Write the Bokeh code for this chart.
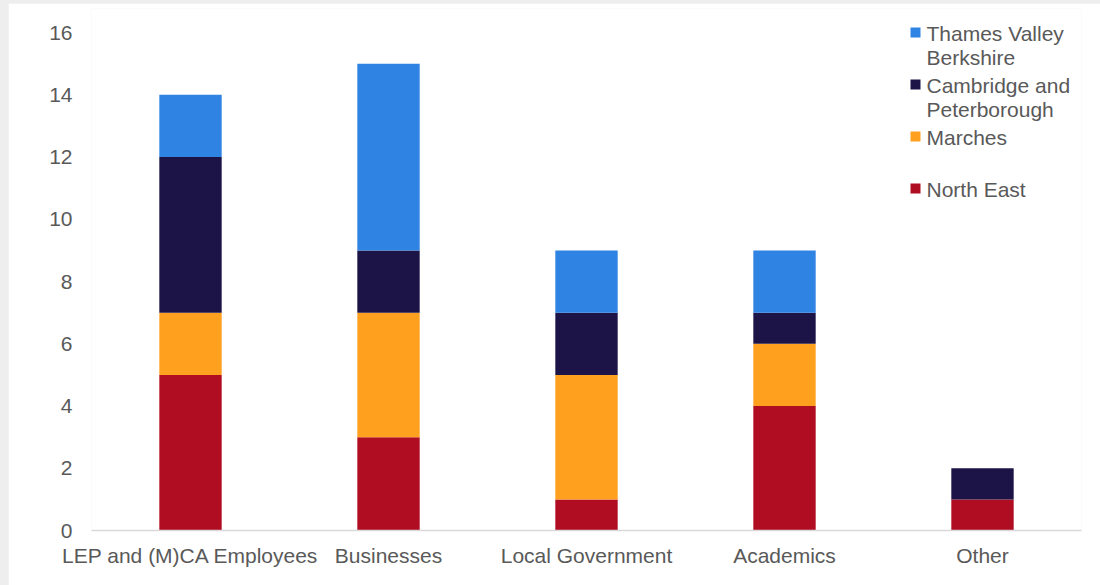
from bokeh.plotting import figure
from bokeh.models import ColumnDataSource, Label, BoxAnnotation
from bokeh.layouts import column
from bokeh.embed import file_html
from bokeh.resources import INLINE

categories = ["LEP and (M)CA Employees", "Businesses", "Local Government", "Academics", "Other"]
regions = ["North East", "Marches", "Cambridge and Peterborough", "Thames Valley Berkshire"]
north_east = [5, 3, 1, 4, 1]
marches = [2, 4, 4, 2, 0]
cambridge = [5, 2, 2, 1, 1]
thames = [2, 6, 2, 2, 0]
colors = ["#B00D23", "#FFA01E", "#1C1447", "#2E83E3"]
y_ticks = [0, 2, 4, 6, 8, 10, 12, 14, 16]

# legend (top to bottom): lines of text per item
legend_entries = [
    (["Thames Valley", "Berkshire"], colors[3]),
    (["Cambridge and", "Peterborough"], colors[2]),
    (["Marches"], colors[1]),
    (["North East"], colors[0]),
]

FONT = "Liberation Sans"
FS = "21px"
GREY = "#595959"

source = ColumnDataSource(dict(cat=categories, ne=north_east, ma=marches, cp=cambridge, tv=thames))

# frame is 522 px tall; 16 sits 24 px below its top (31.125 px per unit)
y_end = 16 + 24 / 31.125
p = figure(x_range=categories, y_range=(0, y_end), width=1092, height=582,
           output_backend="svg", toolbar_location=None,
           min_border_left=83, min_border_right=19, min_border_top=5, min_border_bottom=55)
p.margin = (3, 0, 0, 8)
p.x_range.range_padding = 0
p.vbar_stack(["ne", "ma", "cp", "tv"], x="cat", width=0.315, color=colors,
             source=source, line_color=None)

p.outline_line_color = None
p.xgrid.grid_line_color = None
p.ygrid.grid_line_color = None
p.yaxis.ticker = y_ticks
p.yaxis.axis_line_color = None
p.yaxis.major_tick_line_color = None
p.yaxis.minor_tick_line_color = None
p.xaxis.axis_line_color = "#D9D9D9"
p.xaxis.axis_line_width = 1.5
p.xaxis.major_tick_line_color = None
p.xaxis.minor_tick_line_color = None
for ax in (p.xaxis, p.yaxis):
    ax.major_label_text_font = FONT
    ax.major_label_text_font_size = FS
    ax.major_label_text_color = GREY
p.yaxis.major_label_standoff = 13
p.xaxis.major_label_standoff = 7

# manual legend in screen units (relative to plot frame), Excel-like layout:
# each entry takes two lines of space, square aligned with first line
text_x = 835
sq_left = 819
line_h = 24.0
item_h = 52.0
top_baseline = 497
for i, (lines, col) in enumerate(legend_entries):
    base = top_baseline - i * item_h
    for j, line in enumerate(lines):
        p.add_layout(Label(x=text_x, y=base - j * line_h, x_units="screen", y_units="screen",
                           text=line, text_font=FONT, text_font_size=FS, text_color=GREY,
                           text_baseline="alphabetic", text_align="left"))
    sq_b = base - 4
    p.add_layout(BoxAnnotation(left=sq_left, right=sq_left + 10, bottom=sq_b, top=sq_b + 10,
                               left_units="screen", right_units="screen",
                               bottom_units="screen", top_units="screen",
                               fill_color=col, fill_alpha=1, line_color=None))

layout = column(p, styles={"background-color": "#EEEEEE"})
open("out.html", "w").write(file_html(layout, INLINE))
